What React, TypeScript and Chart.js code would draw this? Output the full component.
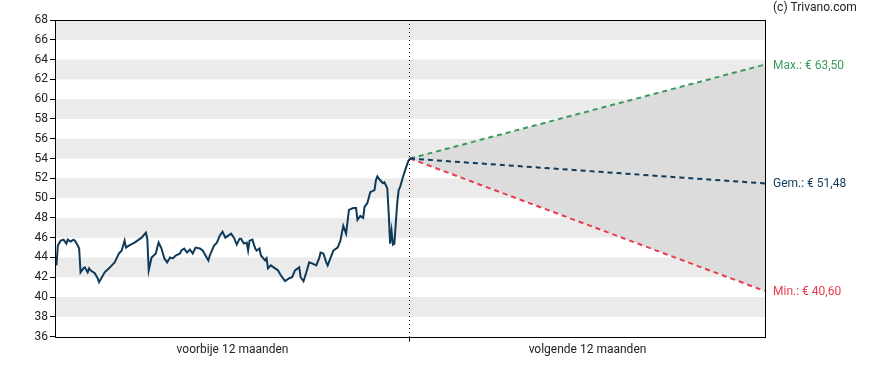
import { useEffect, useRef } from 'react';
import { Chart, registerables } from 'chart.js';
Chart.register(...registerables);

// trading days relative to today (0) and closing prices
const histDays = [
  -249, -248, -246, -244, -242, -241, -239, -237, -236, -234,
  -233, -232, -230, -229, -227, -226, -225, -222, -220, -219,
  -217, -215, -212, -210, -208, -205, -203, -201, -200, -198,
  -194, -191, -189, -186, -185, -184, -182, -179, -178, -177,
  -175, -173, -171, -169, -167, -165, -162, -161, -159, -157,
  -155, -153, -151, -148, -146, -144, -142, -141, -138, -136,
  -134, -132, -130, -128, -126, -124, -122, -120, -119, -117,
  -115, -114, -113, -111, -109, -108, -106, -105, -102, -101,
  -100, -98, -95, -93, -91, -88, -85, -83, -81, -78,
  -77, -75, -73, -71, -69, -66, -64, -63, -61, -59,
  -58, -54, -51, -49, -47, -45, -43, -40, -38, -37,
  -35, -33, -32, -30, -28, -25, -24, -23, -21, -19,
  -18, -16, -15, -14, -13, -12, -11, -10, -9, -8,
  -7, -5, -3, -1, 0,
];
const histPrices = [
  43.2, 45.2, 45.7, 45.8, 45.4, 45.8, 45.6, 45.8, 45.7, 45.2,
  44.9, 42.5, 42.9, 43.0, 42.5, 42.9, 42.7, 42.4, 41.9, 41.5,
  42.0, 42.5, 42.9, 43.2, 43.5, 44.4, 44.7, 45.7, 45.0, 45.2,
  45.5, 45.8, 46.0, 46.5, 45.9, 42.7, 44.0, 44.4, 45.0, 45.5,
  44.9, 43.9, 43.5, 44.0, 43.9, 44.2, 44.4, 44.7, 44.9, 44.5,
  44.8, 44.4, 45.0, 44.9, 44.7, 44.2, 43.7, 44.2, 45.2, 45.5,
  46.2, 46.6, 46.0, 46.2, 46.4, 46.0, 45.3, 45.9, 45.9, 45.4,
  45.5, 44.7, 45.7, 45.8, 44.9, 44.7, 44.9, 44.2, 43.7, 43.9,
  42.9, 43.2, 42.9, 42.7, 42.2, 41.6, 41.9, 42.0, 42.7, 43.0,
  42.0, 41.6, 42.5, 43.5, 43.4, 43.2, 43.9, 44.5, 44.4, 43.5,
  43.2, 44.7, 45.0, 45.7, 47.2, 46.4, 48.8, 49.0, 49.0, 47.8,
  48.2, 48.0, 49.1, 49.5, 50.6, 50.8, 51.8, 52.2, 51.8, 51.5,
  51.6, 51.0, 48.5, 45.4, 46.7, 45.3, 45.4, 47.5, 49.5, 50.8,
  51.1, 52.1, 53.0, 53.8, 54.0,
];

const forecastDays = [0, 250];
const maxPath = [54.0, 63.5];
const avgPath = [54.0, 51.48];
const minPath = [54.0, 40.6];

const periodLabels = ['voorbije 12 maanden', 'volgende 12 maanden'];
const endLabels = ['Max.: € 63,50', 'Gem.: € 51,48', 'Min.: € 40,60'];
const credit = '(c) Trivano.com';

const Y_MIN = 36;
const Y_MAX = 68;
const X_MIN = -250;
const X_MAX = 250;
const TODAY = 0;

const NAVY = '#0f3a5a';
const GREEN = '#3c9a5f';
const RED = '#ea3a4e';
const TEXT = '#222222';

const pts = (xs: number[], ys: number[]) => xs.map((x, i) => ({ x, y: ys[i] }));

const bandsPlugin = {
  id: 'bands',
  beforeDraw(chart: any) {
    const { ctx, chartArea, scales } = chart;
    const y = scales.y;
    ctx.save();
    ctx.fillStyle = '#ebebeb';
    for (let v = Y_MIN + 2; v < Y_MAX; v += 4) {
      const top = y.getPixelForValue(v + 2);
      const bot = y.getPixelForValue(v);
      ctx.fillRect(chartArea.left, top, chartArea.right - chartArea.left, bot - top);
    }
    ctx.restore();
  },
};

const framePlugin = {
  id: 'frame',
  afterDatasetsDraw(chart: any) {
    const { ctx, chartArea, scales } = chart;
    ctx.save();
    // divider at today
    const xd = Math.floor(scales.x.getPixelForValue(TODAY)) - 0.5;
    ctx.strokeStyle = '#000';
    ctx.lineWidth = 1;
    ctx.setLineDash([1, 3]);
    ctx.beginPath();
    ctx.moveTo(xd, chartArea.top);
    ctx.lineTo(xd, chartArea.bottom);
    ctx.stroke();
    ctx.setLineDash([]);
    ctx.beginPath();
    ctx.moveTo(xd, chartArea.bottom);
    ctx.lineTo(xd, chartArea.bottom + 5);
    ctx.stroke();
    ctx.strokeRect(
      Math.round(chartArea.left) + 0.5,
      Math.round(chartArea.top) + 0.5,
      Math.round(chartArea.right - chartArea.left),
      Math.round(chartArea.bottom - chartArea.top)
    );
    ctx.restore();
  },
  afterDraw(chart: any) {
    const { ctx, chartArea } = chart;
    ctx.save();
    ctx.font = '12px Roboto';
    ctx.textAlign = 'left';
    ctx.textBaseline = 'middle';
    const colors = [GREEN, NAVY, RED];
    [1, 2, 3].forEach((di, k) => {
      const meta = chart.getDatasetMeta(di);
      const p = meta.data[meta.data.length - 1];
      ctx.fillStyle = colors[k];
      ctx.fillText(endLabels[k], chartArea.right + 8, p.y + 1);
    });
    ctx.fillStyle = TEXT;
    ctx.fillText(credit, chartArea.right + 8, 8);
    ctx.restore();
  },
};

export default function App() {
  const ref = useRef<HTMLCanvasElement>(null);
  useEffect(() => {
    if (!ref.current) return;
    Chart.defaults.font.family = 'Roboto';
    Chart.defaults.font.size = 12;
    Chart.defaults.color = TEXT;
    const chart = new Chart(ref.current, {
      type: 'line',
      data: {
        datasets: [
          {
            data: pts(histDays, histPrices),
            borderColor: NAVY,
            borderWidth: 2,
            pointRadius: 0,
            tension: 0,
            fill: false,
            order: 0,
          },
          {
            data: pts(forecastDays, maxPath),
            borderColor: GREEN,
            borderWidth: 2,
            borderDash: [5, 4],
            pointRadius: 0,
            fill: '+2',
            backgroundColor: '#dcdcdc',
            order: 2,
          },
          {
            data: pts(forecastDays, avgPath),
            borderColor: NAVY,
            borderWidth: 2,
            borderDash: [5, 4],
            pointRadius: 0,
            fill: false,
            order: 1,
          },
          {
            data: pts(forecastDays, minPath),
            borderColor: RED,
            borderWidth: 2,
            borderDash: [5, 4],
            pointRadius: 0,
            fill: false,
            order: 3,
          },
        ],
      },
      options: {
        animation: false,
        responsive: true,
        maintainAspectRatio: false,
        layout: { padding: { top: 20, right: 123, left: 0, bottom: 12 } },
        plugins: {
          legend: { display: false },
          tooltip: { enabled: false },
          filler: { drawTime: 'beforeDatasetsDraw' } as any,
        },
        scales: {
          x: {
            type: 'linear',
            min: X_MIN,
            max: X_MAX,
            border: { display: false },
            grid: {
              drawOnChartArea: false,
              tickLength: 5,
              tickColor: 'rgba(0,0,0,0)',
            },
            afterBuildTicks: (scale: any) => {
              scale.ticks = [{ value: X_MIN / 2 }, { value: TODAY }, { value: X_MAX / 2 }];
            },
            ticks: {
              autoSkip: false,
              maxRotation: 0,
              padding: 1,
              color: TEXT,
              callback: (v: any) =>
                v === X_MIN / 2 ? periodLabels[0] : v === X_MAX / 2 ? periodLabels[1] : '',
            },
          },
          y: {
            min: Y_MIN,
            max: Y_MAX,
            border: { display: false },
            afterFit: (scale: any) => {
              scale.width = 55;
            },
            grid: {
              drawOnChartArea: false,
              tickLength: 5,
              color: '#000',
            },
            ticks: { stepSize: 2, padding: 2, color: TEXT },
          },
        },
      },
      plugins: [bandsPlugin, framePlugin],
    });
    return () => chart.destroy();
  }, []);
  return (
    <div style={{ position: 'absolute', left: 0, top: 0, width: 888, height: 370 }}>
      <canvas ref={ref} />
    </div>
  );
}
